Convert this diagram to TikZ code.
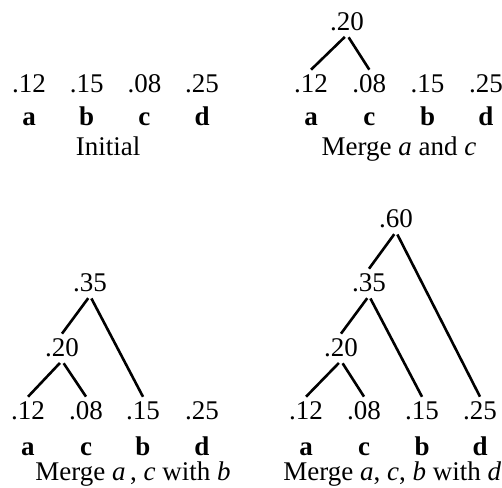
\documentclass[tikz,border=0pt]{standalone}
\usepackage{fontspec}
\setmainfont{Liberation Serif}
\usetikzlibrary{positioning}

\begin{document}
\begin{tikzpicture}[
    x=0.5pt, y=-0.5pt,
    wt/.style={inner xsep=0pt, inner ysep=2pt, anchor=base, font=\fontsize{13.5}{16}\selectfont},
    leaf/.style={inner sep=0pt, anchor=base, font=\fontsize{13.5}{16}\selectfont\bfseries},
    captext/.style={inner sep=0pt, anchor=base, font=\fontsize{13.5}{16}\selectfont},
    edge/.style={line width=1.3pt, shorten <=1.5pt}
]
\useasboundingbox (0,0) rectangle (502,487);

% Initial
\foreach \v/\l [count=\i] in {.12/a,.15/b,.08/c,.25/d} {
    \node[wt] (i\l) at ({29+57.7*(\i-1)},92) {\v};
    \node[leaf] (il\l) at ({29+57.7*(\i-1)},125) {\l};
}
\node[captext] (capi) at (108,155) {Initial};

% Merge a and c
\foreach \v/\l [count=\i] in {.12/a,.08/c,.15/b,.25/d} {
    \node[wt] (m\l) at ({311+58.3*(\i-1)},92) {\v};
    \node[leaf] (ml\l) at ({311+58.3*(\i-1)},125) {\l};
}
\node[wt] (mac) at (347,30) {.20};
\draw[edge] (mac.south) -- (ma.north);
\draw[edge] (mac.south) -- (mc.north);
\node[captext] (capm) at (399,155) {Merge \textit{a} and \textit{c}};

% Merge a, c with b
\foreach \v/\l/\x in {.12/a/28,.08/c/86,.15/b/143,.25/d/202} {
    \node[wt] (n\l) at (\x,419) {\v};
    \node[leaf] (nl\l) at (\x,455) {\l};
}
\node[wt] (nac) at (62,356) {.20};
\node[wt] (nacb) at (90,291) {.35};
\draw[edge] (nac.south) -- (na.north);
\draw[edge] (nac.south) -- (nc.north);
\draw[edge] (nacb.south) -- (nac.north);
\draw[edge] (nacb.south) -- (nb.north);
\node[captext, anchor=base west] (capn) at (35,480) {Merge \textit{a}\,, \textit{c} with \textit{b}};

% Merge a, c, b with d
\foreach \v/\l/\x in {.12/a/306,.08/c/364,.15/b/422,.25/d/480} {
    \node[wt] (r\l) at (\x,419) {\v};
    \node[leaf] (rl\l) at (\x,455) {\l};
}
\node[wt] (rac) at (341,356) {.20};
\node[wt] (racb) at (369,291) {.35};
\node[wt] (racbd) at (396,227) {.60};
\draw[edge] (rac.south) -- (ra.north);
\draw[edge] (rac.south) -- (rc.north);
\draw[edge] (racb.south) -- (rac.north);
\draw[edge] (racb.south) -- (rb.north);
\draw[edge] (racbd.south) -- (racb.north);
\draw[edge] (racbd.south) -- (rd.north);
\node[captext, anchor=base west] (capr) at (283,480) {Merge \textit{a}, \textit{c}, \textit{b} with \textit{d}};
\end{tikzpicture}
\end{document}
